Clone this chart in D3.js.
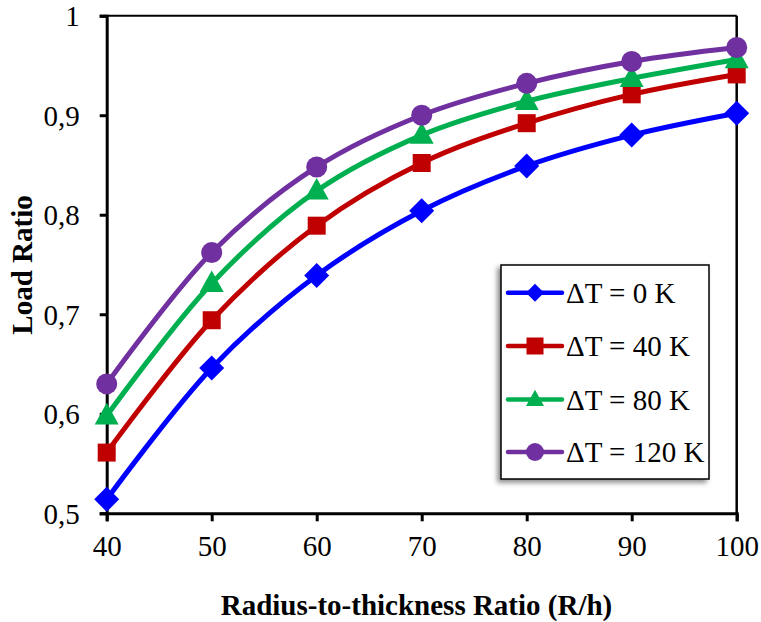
<!DOCTYPE html>
<html><head><meta charset="utf-8">
<script src="https://cdn.jsdelivr.net/npm/d3@7"></script>
<style>body{margin:0;background:#fff}svg{display:block}</style>
</head><body><svg id="c" width="761" height="622"></svg>
<script>
const xValues = [40, 50, 60, 70, 80, 90, 100];
const seriesNames = ["\u0394T = 0 K", "\u0394T = 40 K", "\u0394T = 80 K", "\u0394T = 120 K"];
const dT0   = [0.514, 0.646, 0.739, 0.804, 0.849, 0.880, 0.902];
const dT40  = [0.561, 0.694, 0.789, 0.852, 0.892, 0.921, 0.941];
const dT80  = [0.598, 0.731, 0.824, 0.880, 0.914, 0.937, 0.956];
const dT120 = [0.630, 0.762, 0.848, 0.900, 0.932, 0.954, 0.968];
const xTicks = [40, 50, 60, 70, 80, 90, 100];
const yTicks = [0.5, 0.6, 0.7, 0.8, 0.9, 1];
const yTickLabels = ["0,5", "0,6", "0,7", "0,8", "0,9", "1"];
const colors = ["#0000FF", "#C00000", "#00B050", "#7030A0"];
const symbols = ["diamond", "square", "triangle", "circle"];
const allSeries = [dT0, dT40, dT80, dT120];

const svg = d3.select("#c");
const L = 106.7, R = 736.7, T = 15.7, B = 513.3;
const x = d3.scaleLinear().domain([40, 100]).range([L, R]);
const y = d3.scaleLinear().domain([0.5, 1]).range([B, T]);
const font = "'Liberation Serif','Times New Roman',serif";

const defs = svg.append("defs");
const f = defs.append("filter").attr("id", "sh").attr("x", "-20%").attr("y", "-20%").attr("width", "140%").attr("height", "140%");
f.append("feDropShadow").attr("dx", -3).attr("dy", 3).attr("stdDeviation", 2.5).attr("flood-color", "#000").attr("flood-opacity", 0.45);

// frame top/right
svg.append("line").attr("x1", L).attr("x2", R).attr("y1", T).attr("y2", T).attr("stroke", "#000").attr("stroke-width", 2);
svg.append("line").attr("x1", R).attr("x2", R).attr("y1", T).attr("y2", B).attr("stroke", "#000").attr("stroke-width", 2.5);

// axes
const xAxis = d3.axisBottom(x).tickValues(xTicks).tickSize(8).tickPadding(14).tickFormat(d3.format("d"));
const gx = svg.append("g").attr("transform", `translate(0,${B})`).call(xAxis);
const yAxis = d3.axisLeft(y).tickValues(yTicks).tickSize(7).tickPadding(20).tickFormat((d, i) => yTickLabels[i]);
const gy = svg.append("g").attr("transform", `translate(${L},0)`).call(yAxis);
[gx, gy].forEach(g => {
  g.select(".domain").attr("stroke", "#000").attr("stroke-width", 3);
  g.selectAll(".tick line").attr("stroke", "#000").attr("stroke-width", 3);
  g.selectAll(".tick text").attr("fill", "#000").style("font-family", font).style("font-size", "29px");
});
gy.selectAll(".tick text").attr("dy", "0.35em");
gx.selectAll(".tick text").attr("dy", "0.71em");

// axis titles
svg.append("text").attr("x", 416.5).attr("y", 615).attr("text-anchor", "middle")
  .style("font-family", font).style("font-size", "29px").style("font-weight", "bold").text("Radius-to-thickness Ratio (R/h)");
svg.append("text").attr("transform", "translate(32,265) rotate(-90)").attr("text-anchor", "middle")
  .style("font-family", font).style("font-size", "29px").style("font-weight", "bold").text("Load Ratio");

function drawMarker(g, type, cx, cy, s, color) {
  if (type === "diamond") {
    const h = s.d / 2;
    g.append("path").attr("d", `M${cx},${cy - h}L${cx + h},${cy}L${cx},${cy + h}L${cx - h},${cy}Z`).attr("fill", color);
  } else if (type === "square") {
    g.append("rect").attr("x", cx - s.s / 2).attr("y", cy - s.s / 2).attr("width", s.s).attr("height", s.s).attr("fill", color);
  } else if (type === "triangle") {
    const w = s.t, hh = s.t * 0.9;
    g.append("path").attr("d", `M${cx},${cy - hh * 0.6}L${cx + w / 2},${cy + hh * 0.4}L${cx - w / 2},${cy + hh * 0.4}Z`).attr("fill", color);
  } else {
    g.append("circle").attr("cx", cx).attr("cy", cy).attr("r", s.c / 2).attr("fill", color);
  }
}
const bigM = {d: 25, s: 18, t: 24, c: 21};
const smallM = {d: 18, s: 17, t: 18, c: 18};

const line = d3.line().x(d => x(d[0])).y(d => y(d[1])).curve(d3.curveCatmullRom.alpha(0.5));
allSeries.forEach((vals, i) => {
  const pts = xValues.map((xv, j) => [xv, vals[j]]);
  const g = svg.append("g");
  g.append("path").attr("d", line(pts)).attr("fill", "none").attr("stroke", colors[i]).attr("stroke-width", 5).attr("stroke-linejoin", "round");
  pts.forEach(p => drawMarker(g, symbols[i], x(p[0]), y(p[1]), bigM, colors[i]));
});

// legend
const lg = svg.append("g");
lg.append("rect").attr("x", 501).attr("y", 265).attr("width", 208).attr("height", 214)
  .attr("fill", "#fff").attr("stroke", "#000").attr("stroke-width", 1.5).attr("filter", "url(#sh)");
const rowY = [292.7, 346, 399.5, 452];
seriesNames.forEach((name, i) => {
  const cy = rowY[i];
  lg.append("line").attr("x1", 508).attr("x2", 562).attr("y1", cy).attr("y2", cy)
    .attr("stroke", colors[i]).attr("stroke-width", 4.5).attr("stroke-linecap", "round");
  drawMarker(lg, symbols[i], 535, cy, smallM, colors[i]);
  lg.append("text").attr("x", 566).attr("y", cy).attr("dy", "0.35em")
    .style("font-family", font).style("font-size", "29px").attr("fill", "#000").text(name);
});
</script></body></html>
